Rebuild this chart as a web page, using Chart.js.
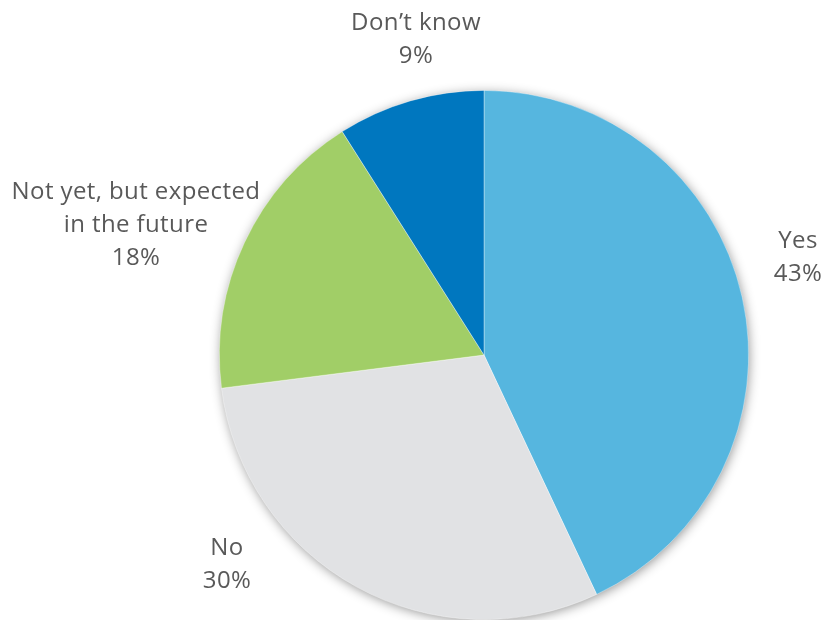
<!DOCTYPE html>
<html>
<head>
<meta charset="utf-8">
<script src="https://cdn.jsdelivr.net/npm/chart.js@4.4.1/dist/chart.umd.min.js"></script>
<style>
  html, body { margin: 0; padding: 0; background: #fff; }
  #wrap { width: 825px; height: 620px; }
</style>
</head>
<body>
<div id="wrap"><canvas id="pieChart" width="825" height="620"></canvas></div>
<script>
const categorias = ['Yes', 'No', 'Not yet, but expected\nin the future', 'Don\u2019t know'];
const percentuais = [43, 30, 18, 9];
const cores = ['#56B6DF', '#E1E2E4', '#A1CE67', '#0077BF'];

// deslocamento de cada rótulo em relação ao centro da pizza
const posRotulos = [[314, -97], [-257, 210], [-348, -130], [-68, -315]];

const ctx = document.getElementById('pieChart').getContext('2d');

// sombra suave em volta da pizza
const sombraPizza = {
  id: 'sombraPizza',
  beforeDatasetsDraw(chart) {
    const arc = chart.getDatasetMeta(0).data[0];
    if (!arc) return;
    const c = chart.ctx;
    c.save();
    c.shadowColor = 'rgba(0,0,0,0.45)';
    c.shadowBlur = 12;
    c.shadowOffsetX = 1;
    c.shadowOffsetY = 2;
    c.fillStyle = '#fff';
    c.beginPath();
    c.arc(arc.x, arc.y, arc.outerRadius - 1, 0, Math.PI * 2);
    c.fill();
    c.restore();
  }
};

// rótulos com nome e porcentagem fora das fatias
const rotulos = {
  id: 'rotulos',
  afterDatasetsDraw(chart) {
    const meta = chart.getDatasetMeta(0);
    const c = chart.ctx;
    c.save();
    c.font = '24px "Open Sans"';
    c.letterSpacing = '0.4px';
    c.fillStyle = '#595959';
    c.textAlign = 'center';
    c.textBaseline = 'middle';
    meta.data.forEach((arc, i) => {
      const linhas = categorias[i].split('\n').concat(percentuais[i] + '%');
      const lh = 33;
      const cx = arc.x + posRotulos[i][0];
      const cy = arc.y + posRotulos[i][1] - (linhas.length - 1) * lh / 2;
      linhas.forEach((t, k) => c.fillText(t, cx, cy + k * lh));
    });
    c.restore();
  }
};

new Chart(ctx, {
  type: 'pie',
  data: {
    labels: categorias,
    datasets: [{
      data: percentuais,
      backgroundColor: cores,
      borderColor: 'rgba(255,255,255,0.45)',
      borderWidth: 0.8
    }]
  },
  options: {
    responsive: false,
    animation: false,
    layout: { padding: { top: 90, bottom: 0, left: 219, right: 76 } },
    plugins: {
      legend: { display: false },
      tooltip: { enabled: false }
    }
  },
  plugins: [sombraPizza, rotulos]
});
</script>
</body>
</html>
